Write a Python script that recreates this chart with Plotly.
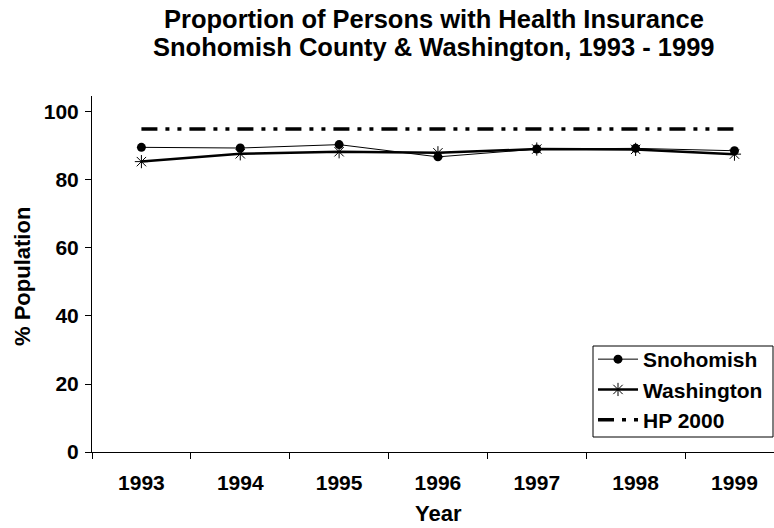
import plotly.graph_objects as go

years = ["1993", "1994", "1995", "1996", "1997", "1998", "1999"]
snohomish = [89.6, 89.4, 90.4, 86.8, 89.1, 89.3, 88.6]
washington = [85.4, 87.7, 88.3, 88.0, 89.1, 89.0, 87.6]
hp2000 = [95, 95, 95, 95, 95, 95, 95]
y_ticks = [0, 20, 40, 60, 80, 100]

FONT = "Arial, Liberation Sans, sans-serif"
FS = 21

# plot area in pixels
L, T, B, W, H = 92, 96, 452, 774, 528
R = W  # plot extends to the right edge
PW, PH = R - L, B - T


def px_x(x):
    return (x - L) / PW


def px_y(y):
    return (B - y) / PH


fig = go.Figure()
fig.add_trace(go.Scatter(
    x=years, y=snohomish, name="<b>Snohomish</b>", mode="lines+markers",
    line=dict(color="black", width=1),
    marker=dict(symbol="circle", size=9, color="black"),
))
fig.add_trace(go.Scatter(
    x=years, y=washington, name="<b>Washington</b>", mode="lines+markers",
    line=dict(color="black", width=2.5),
    marker=dict(symbol="asterisk-open", size=11, color="black", line=dict(color="black", width=1)),
))
fig.add_trace(go.Scatter(
    x=years, y=hp2000, name="<b>HP 2000</b>", mode="lines",
    line=dict(color="black", width=3.5, dash="16px,8px,4px,8px,4px,8px"),
))

fig.update_layout(
    width=W, height=H,
    margin=dict(l=L, r=0, t=T, b=H - B, autoexpand=False),
    paper_bgcolor="white", plot_bgcolor="white",
    font=dict(family=FONT, color="black", size=FS),
    xaxis=dict(
        type="category", range=[-0.5, 6.4], tickson="boundaries",
        ticks="outside", ticklen=6, tickcolor="black",
        showline=True, linecolor="black", linewidth=1, showgrid=False,
        tickfont=dict(size=FS, family=FONT), ticklabelstandoff=12,
        tickprefix="<b>", ticksuffix="</b>",
    ),
    yaxis=dict(
        range=[0, 104.7], tickvals=y_ticks,
        ticktext=["<b>%d</b>" % v for v in y_ticks],
        ticks="outside", ticklen=6, tickcolor="black",
        showline=True, linecolor="black", linewidth=1, showgrid=False, zeroline=False,
        tickfont=dict(size=FS, family=FONT), ticklabelstandoff=2,
    ),
    legend=dict(
        x=px_x(593), y=px_y(339), xanchor="left", yanchor="top",
        borderwidth=0, bgcolor="rgba(0,0,0,0)",
        font=dict(size=FS, family=FONT),
        itemwidth=40, tracegroupgap=0,
    ),
    showlegend=True,
    shapes=[
        dict(type="rect", xref="paper", yref="paper",
             x0=px_x(593), x1=px_x(773), y0=px_y(437), y1=px_y(346),
             line=dict(color="black", width=1), fillcolor="white", layer="above"),
    ],
    annotations=[
        dict(text="<b>Proportion of Persons with Health Insurance</b>",
             xref="paper", yref="paper", x=px_x(434), y=px_y(19),
             xanchor="center", yanchor="middle", showarrow=False,
             font=dict(size=25.5, family=FONT)),
        dict(text="<b>Snohomish County &amp; Washington, 1993 - 1999</b>",
             xref="paper", yref="paper", x=px_x(434), y=px_y(47),
             xanchor="center", yanchor="middle", showarrow=False,
             font=dict(size=25.5, family=FONT)),
        dict(text="<b>% Population</b>", textangle=-90,
             xref="paper", yref="paper", x=px_x(22), y=px_y(277),
             xanchor="center", yanchor="middle", showarrow=False,
             font=dict(size=22, family=FONT)),
        dict(text="<b>Year</b>",
             xref="paper", yref="paper", x=px_x(438), y=px_y(513),
             xanchor="center", yanchor="middle", showarrow=False,
             font=dict(size=22, family=FONT)),
    ],
)

fig.write_html(
    "out.html",
    config={"displayModeBar": False},
    post_script="document.body.style.margin='0px';document.body.style.overflow='hidden';",
)
